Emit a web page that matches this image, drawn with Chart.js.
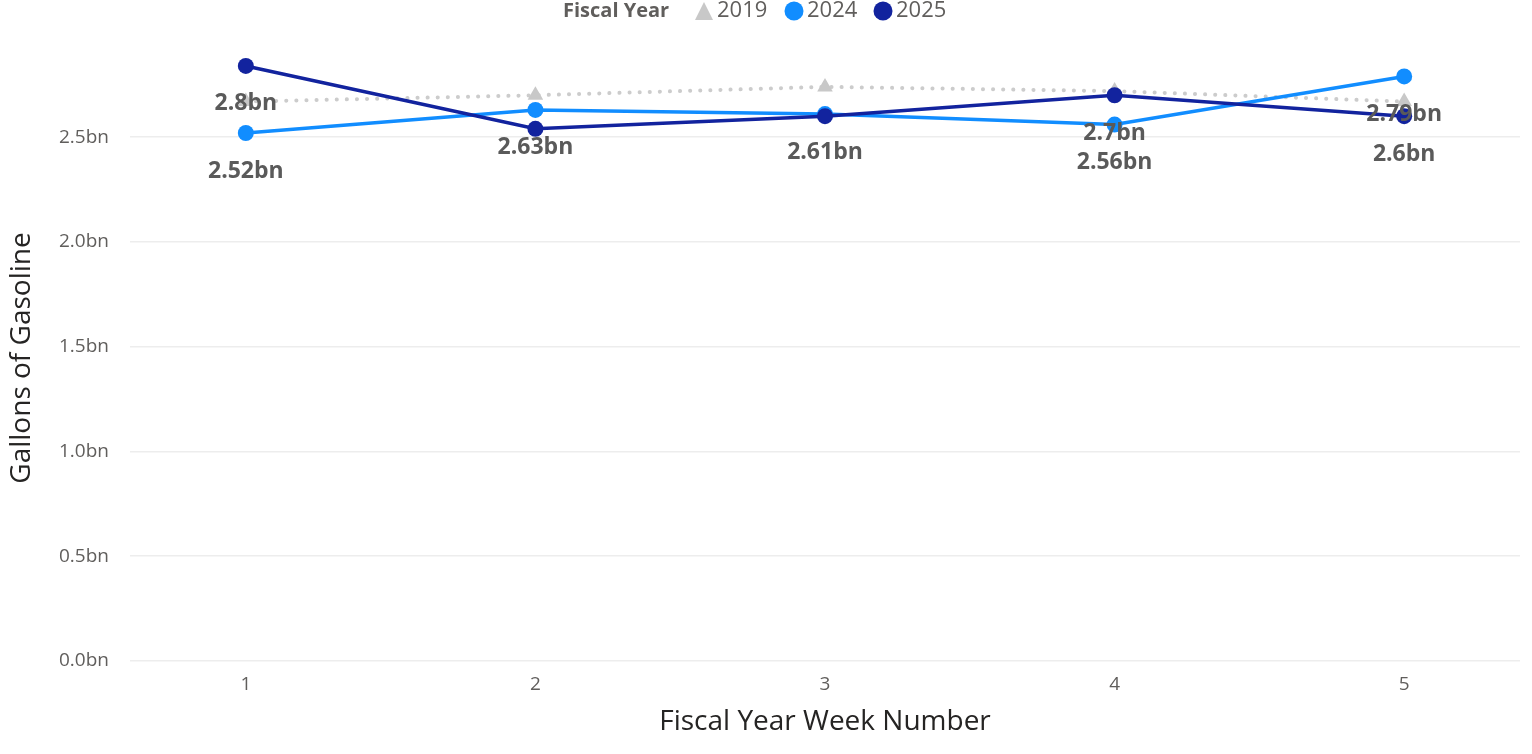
<!DOCTYPE html>
<html>
<head>
<meta charset="utf-8">
<script src="https://cdn.jsdelivr.net/npm/chart.js@4.4.1/dist/chart.umd.min.js"></script>
<style>
  body { margin: 0; background: #fff; }
  #wrap { width: 1532px; height: 754px; position: relative; }
</style>
</head>
<body>
<div id="wrap"><canvas id="myChart"></canvas></div>
<script>
// data (billions of gallons)
const weeks = [1, 2, 3, 4, 5];
const fy2019 = [2.67, 2.70, 2.74, 2.72, 2.67];
const fy2024 = [2.52, 2.63, 2.61, 2.56, 2.79];
const fy2025 = [2.84, 2.54, 2.60, 2.70, 2.60];
const yTicks = [0, 0.5, 1.0, 1.5, 2.0, 2.5];
// which data labels Power BI kept visible
const show2024 = [true, true, true, true, true];
const show2025 = [true, false, false, true, true];

const FONT = "'Open Sans', 'Noto Sans', sans-serif";
const GRAY_TXT = '#605E5C';

const toPts = arr => arr.map((v, i) => ({x: weeks[i], y: v}));

// data labels drawn under each point
const labelPlugin = {
  id: 'pointLabels',
  afterDatasetsDraw(chart) {
    const ctx = chart.ctx;
    ctx.save();
    ctx.font = 'bold 23px ' + FONT;
    ctx.fillStyle = '#5A5A5A';
    ctx.textAlign = 'center';
    ctx.textBaseline = 'middle';
    chart.data.datasets.forEach((ds, di) => {
      if (!ds.showLabels) return;
      const meta = chart.getDatasetMeta(di);
      meta.data.forEach((pt, i) => {
        if (!ds.showLabels[i]) return;
        const txt = ds.data[i].y.toFixed(ds.labelDecimals).replace(/\.?0+$/, '') + 'bn';
        ctx.fillText(txt, pt.x, pt.y + 38);
      });
    });
    ctx.restore();
  }
};

// legend row along the top, "Fiscal Year" title inline, plus y axis title
const legendPlugin = {
  id: 'topLegend',
  afterDraw(chart) {
    const ctx = chart.ctx;
    ctx.save();
    ctx.textBaseline = 'middle';
    const y = 11;
    ctx.font = 'bold 20px ' + FONT;
    ctx.fillStyle = GRAY_TXT;
    ctx.fillText('Fiscal Year', 563, y);
    ctx.font = '22px ' + FONT;
    const items = [
      {t: '2019', c: '#C8C8C8', x: 695, tri: true},
      {t: '2024', c: '#118DFF', x: 785},
      {t: '2025', c: '#12239E', x: 874}
    ];
    items.forEach(it => {
      ctx.fillStyle = it.c;
      ctx.beginPath();
      if (it.tri) {
        ctx.moveTo(it.x + 9, y - 9);
        ctx.lineTo(it.x + 18, y + 9);
        ctx.lineTo(it.x, y + 9);
        ctx.closePath();
      } else {
        ctx.arc(it.x + 9, y, 9.5, 0, Math.PI * 2);
      }
      ctx.fill();
      ctx.fillStyle = GRAY_TXT;
      ctx.fillText(it.t, it.x + 22, y);
    });

    // y axis title
    ctx.translate(22, 358);
    ctx.rotate(-Math.PI / 2);
    ctx.textAlign = 'center';
    ctx.font = '28px ' + FONT;
    ctx.fillStyle = '#252423';
    ctx.fillText('Gallons of Gasoline', 0, 0);
    ctx.restore();
  }
};

new Chart(document.getElementById('myChart').getContext('2d'), {
  type: 'line',
  data: {
    datasets: [
      {
        label: '2025',
        data: toPts(fy2025),
        borderColor: '#12239E',
        backgroundColor: '#12239E',
        borderWidth: 3.5,
        pointRadius: 8,
        pointHoverRadius: 8,
        pointBorderWidth: 0,
        order: 0,
        showLabels: show2025,
        labelDecimals: 1
      },
      {
        label: '2024',
        data: toPts(fy2024),
        borderColor: '#118DFF',
        backgroundColor: '#118DFF',
        borderWidth: 3.5,
        pointRadius: 8,
        pointHoverRadius: 8,
        pointBorderWidth: 0,
        order: 1,
        showLabels: show2024,
        labelDecimals: 2
      },
      {
        label: '2019',
        data: toPts(fy2019),
        borderColor: '#CCCCCC',
        backgroundColor: '#C8C8C8',
        borderWidth: 4,
        borderDash: [0.1, 10],
        borderCapStyle: 'round',
        pointStyle: 'triangle',
        pointRadius: 9,
        pointHoverRadius: 9,
        pointBorderWidth: 0,
        order: 2
      }
    ]
  },
  options: {
    animation: false,
    responsive: true,
    maintainAspectRatio: false,
    layout: { padding: { top: 31, right: 12, bottom: 0, left: 0 } },
    plugins: {
      legend: { display: false },
      tooltip: { enabled: false }
    },
    scales: {
      x: {
        type: 'linear',
        min: 0.6,
        max: 5.4,
        afterBuildTicks: s => { s.ticks = weeks.map(v => ({value: v})); },
        afterFit: s => { s.height = 93; },
        grid: { display: false, drawTicks: false },
        border: { display: false },
        ticks: { color: GRAY_TXT, font: { family: FONT, size: 19 }, padding: 12 },
        title: {
          display: true,
          text: 'Fiscal Year Week Number',
          color: '#252423',
          font: { family: FONT, size: 28 },
          padding: { top: 0, bottom: 15 }
        }
      },
      y: {
        min: 0,
        max: 3.0,
        afterBuildTicks: s => { s.ticks = yTicks.map(v => ({value: v})); },
        afterFit: s => { s.width = 130; },
        grid: { color: '#EDEDED', lineWidth: 1.5, drawTicks: false },
        border: { display: false },
        ticks: {
          color: GRAY_TXT,
          font: { family: FONT, size: 19 },
          padding: 21,
          callback: v => v.toFixed(1) + 'bn'
        }
      }
    }
  },
  plugins: [labelPlugin, legendPlugin]
});
</script>
</body>
</html>
